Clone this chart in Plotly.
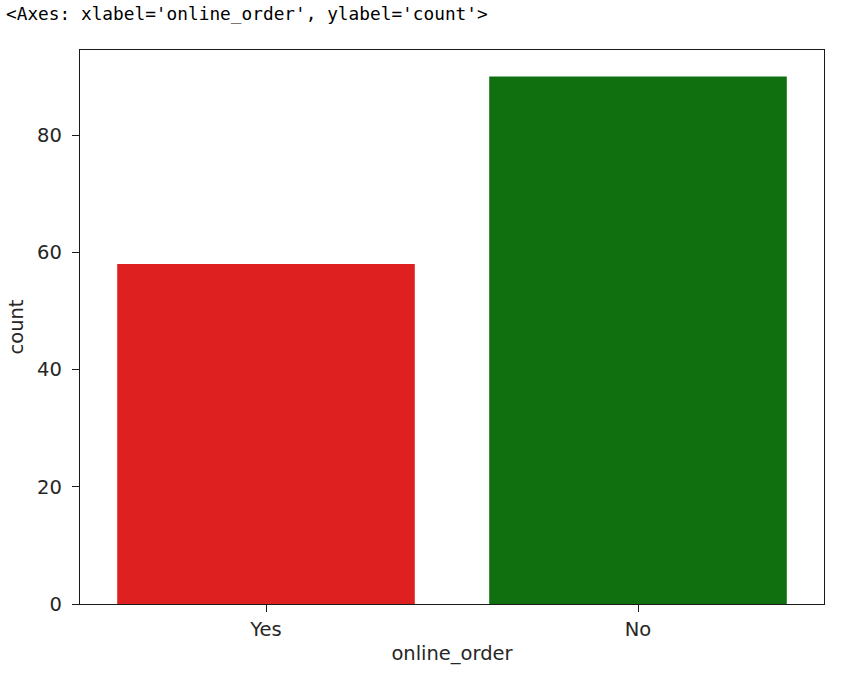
import plotly.graph_objects as go

categories = ["Yes", "No"]
counts = [58, 90]
bar_colors = ["#DF2020", "#107010"]
y_ticks = [0, 20, 40, 60, 80]

fig = go.Figure(
    go.Bar(
        x=categories,
        y=counts,
        marker=dict(color=bar_colors, line=dict(width=0)),
        width=0.8,
        hoverinfo="skip",
    )
)

axis_font = dict(family="DejaVu Sans", size=19.5, color="#262626")

common = dict(
    showgrid=False,
    zeroline=False,
    showline=True,
    linecolor="#1a1a1a",
    linewidth=1.4,
    mirror=True,
    ticks="outside",
    ticklen=7,
    tickwidth=1.3,
    tickcolor="#1a1a1a",
    tickfont=axis_font,
)

fig.update_layout(
    width=849,
    height=681,
    margin=dict(l=80, r=25, t=50, b=77),
    paper_bgcolor="white",
    plot_bgcolor="white",
    showlegend=False,
    font=dict(family="DejaVu Sans", size=19.5, color="#262626"),
    xaxis=dict(
        range=[-0.5, 1.5],
        ticklabelstandoff=0,
        title=dict(text="online_order", font=axis_font, standoff=6),
        **common,
    ),
    yaxis=dict(
        range=[0, 94.5],
        tickvals=y_ticks,
        ticklabelstandoff=6,
        title=dict(text="count", font=axis_font, standoff=8),
        **common,
    ),
    annotations=[
        dict(
            text="<Axes: xlabel='online_order', ylabel='count'>",
            xref="paper",
            yref="paper",
            x=(4 - 80) / 744,
            y=1 + (50 - 14) / 554,
            xanchor="left",
            yanchor="middle",
            showarrow=False,
            font=dict(family="DejaVu Sans Mono", size=17.8, color="#000000"),
        )
    ],
)

fig.write_html("out.html")
